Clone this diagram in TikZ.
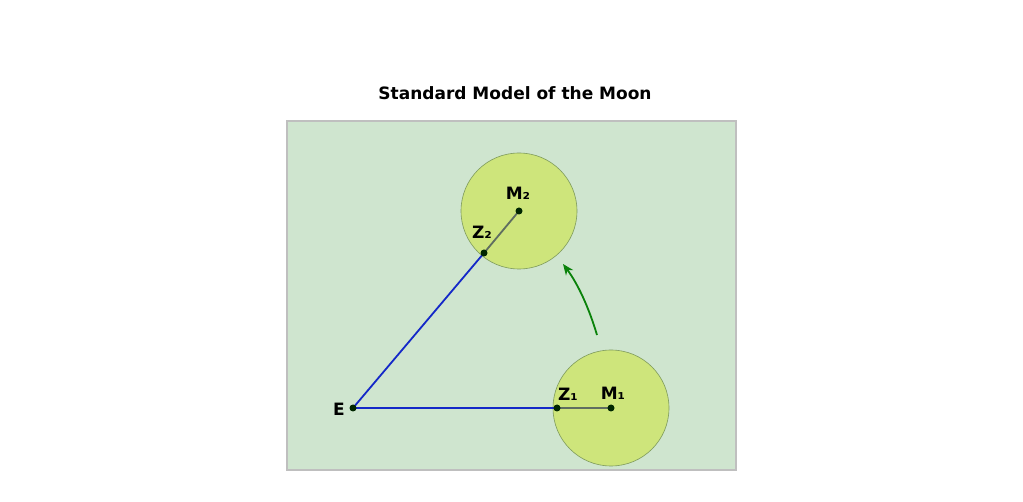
\documentclass[tikz,border=0pt]{standalone}
\usepackage{fontspec}
\setmainfont{DejaVu Sans}
\usetikzlibrary{arrows.meta}
\begin{document}
\begin{tikzpicture}[x=1pt,y=-1pt,
  lbl/.style={font=\fontsize{17}{17}\selectfont\bfseries, inner sep=0pt},
  pt/.style={circle, fill=black!85!green, inner sep=0pt, minimum size=7pt},
  moon/.style={circle, fill=moonc, draw=moone, line width=0.6pt, minimum size=116pt, inner sep=0pt}]
\definecolor{bgc}{HTML}{CFE5CF}
\definecolor{moonc}{HTML}{CEE57B}
\definecolor{moone}{HTML}{7E9A5C}
\definecolor{bluec}{HTML}{1428C8}
\definecolor{grayc}{HTML}{5F6E60}
\definecolor{greenc}{HTML}{0A820A}
\useasboundingbox (0,0) rectangle (1023,502);
\node[font=\fontsize{17}{17}\selectfont\bfseries] (title) at (515,93) {Standard Model of the Moon};
\draw[fill=bgc, draw=black!25, line width=1.5pt] (287,121) rectangle (736,470);
\node[moon] (m2c) at (519,211) {};
\node[moon] (m1c) at (611,408) {};
\coordinate (E) at (353,408);
\coordinate (Z2) at (484,253);
\coordinate (Z1) at (557,408);
\coordinate (M2) at (519,211);
\coordinate (M1) at (611,408);
\draw[bluec, line width=1.8pt] (Z2) -- (E) -- (Z1);
\draw[grayc, line width=1.8pt] (Z2) -- (M2) (Z1) -- (M1);
\node[pt] (pE) at (E) {};
\node[pt] (pZ2) at (Z2) {};
\node[pt] (pZ1) at (Z1) {};
\node[pt] (pM2) at (M2) {};
\node[pt] (pM1) at (M1) {};
\node[lbl] (lE) at (339,409) {E};
\node[lbl] (lZ2) at (482,232) {Z₂};
\node[lbl] (lM2) at (518,193) {M₂};
\node[lbl] (lZ1) at (568,394) {Z₁};
\node[lbl] (lM1) at (613,393) {M₁};
\coordinate (a1) at (597,335);
\coordinate (a2) at (563,264);
\draw[greenc, line width=1.8pt, -{Stealth[length=11pt,width=9pt]}] (a1) .. controls (589,308) and (578,284) .. (a2);
\end{tikzpicture}
\end{document}
